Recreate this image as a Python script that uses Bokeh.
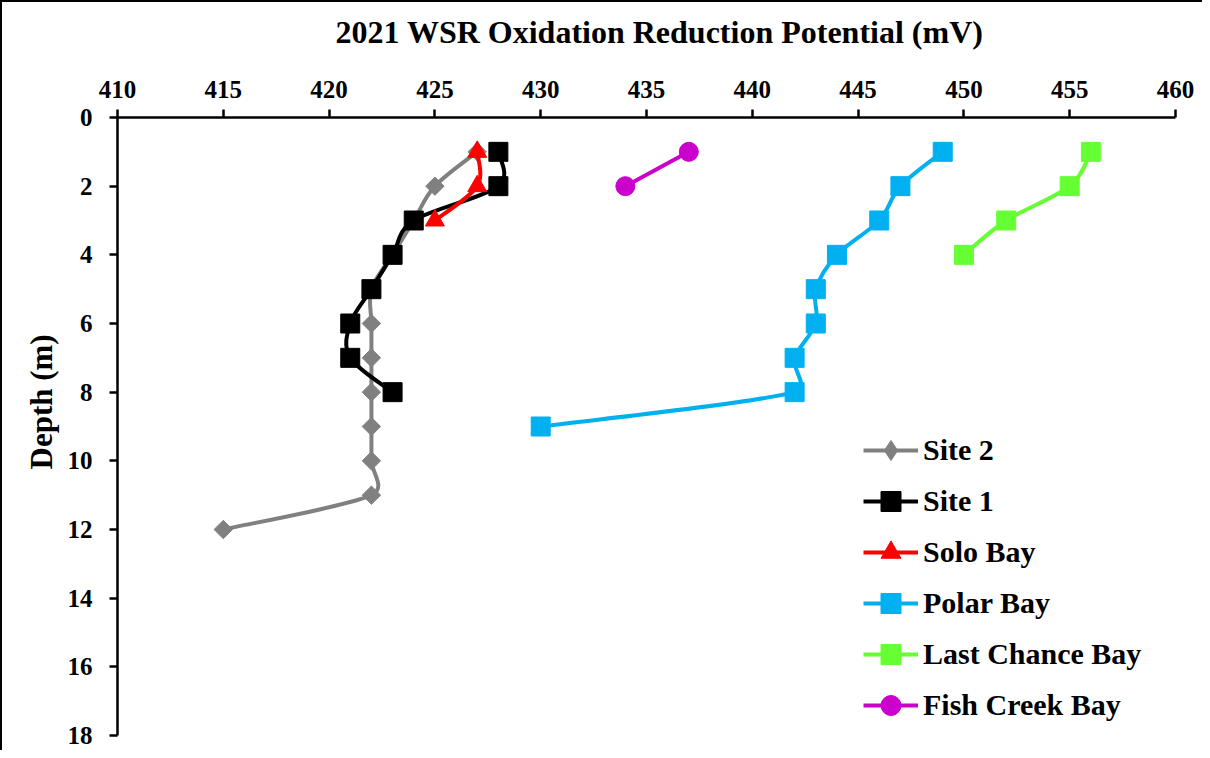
import numpy as np
from bokeh.plotting import figure
from bokeh.models import (Range1d, FixedTicker, Legend, LegendItem, Title,
                          ColumnDataSource)
from bokeh.embed import file_html
from bokeh.resources import INLINE

# ---------------- data ----------------
site2_depth = [1, 2, 3, 4, 5, 6, 7, 8, 9, 10, 11, 12]
site2_orp = [427, 425, 424, 423, 422, 422, 422, 422, 422, 422, 422, 415]

site1_depth = [1, 2, 3, 4, 5, 6, 7, 8]
site1_orp = [428, 428, 424, 423, 422, 421, 421, 423]

solo_depth = [1, 2, 3]
solo_orp = [427, 427, 425]

polar_depth = [1, 2, 3, 4, 5, 6, 7, 8, 9]
polar_orp = [449, 447, 446, 444, 443, 443, 442, 442, 430]

lastchance_depth = [1, 2, 3, 4]
lastchance_orp = [456, 455, 452, 450]

fishcreek_depth = [1, 2]
fishcreek_orp = [437, 434]

x_ticks = [410, 415, 420, 425, 430, 435, 440, 445, 450, 455, 460]
y_ticks = [0, 2, 4, 6, 8, 10, 12, 14, 16, 18]

TITLE = "2021 WSR Oxidation Reduction Potential (mV)"
FONT = "Liberation Serif"

W, H = 1202, 750
BL, BT, BR, BB = 115, 115, 29, 17
XR = (410, 460)
YR = (18, 0)
FW, FH = W - BL - BR, H - BT - BB
# pixel per data unit (used only to shape the smoothing like Excel does)
KX = FW / (XR[1] - XR[0])
KY = FH / abs(YR[1] - YR[0])


def smooth_segments(xs, ys, cap=0.5):
    """Excel-like 'smoothed line': Catmull-Rom tangents, control length capped
    by a fraction of the segment length (computed in pixel space)."""
    xs = np.asarray(xs, float)
    ys = np.asarray(ys, float)
    n = len(xs)
    px, py = xs * KX, ys * KY

    def ctrl(a, b, seg):
        tx, ty = (px[b] - px[a]) / 6, (py[b] - py[a]) / 6
        L = np.hypot(tx, ty)
        if L > cap * seg and L > 0:
            k = cap * seg / L
            tx, ty = tx * k, ty * k
        return tx / KX, ty / KY

    d = dict(x0=[], y0=[], x1=[], y1=[], cx0=[], cy0=[], cx1=[], cy1=[])
    for i in range(n - 1):
        j = i + 1
        seg = np.hypot(px[j] - px[i], py[j] - py[i])
        ox0, oy0 = ctrl(max(i - 1, 0), j, seg)
        ox1, oy1 = ctrl(i, min(j + 1, n - 1), seg)
        d["x0"].append(xs[i]); d["y0"].append(ys[i])
        d["x1"].append(xs[j]); d["y1"].append(ys[j])
        d["cx0"].append(xs[i] + ox0); d["cy0"].append(ys[i] + oy0)
        d["cx1"].append(xs[j] - ox1); d["cy1"].append(ys[j] - oy1)
    return ColumnDataSource(d)


p = figure(width=W, height=H, title=None,
           x_range=Range1d(*XR), y_range=Range1d(*YR),
           x_axis_location="above",
           output_backend="svg", toolbar_location=None,
           min_border_left=BL, min_border_top=BT,
           min_border_right=BR, min_border_bottom=BB)
p.styles = {"border-left": "2px solid black", "border-top": "2px solid black"}

p.xgrid.visible = False
p.ygrid.visible = False
p.outline_line_color = None
p.background_fill_color = "white"
p.border_fill_color = "white"

for ax, ticks, standoff in ((p.xaxis[0], x_ticks, 12), (p.yaxis[0], y_ticks, 17)):
    ax.ticker = FixedTicker(ticks=ticks)
    ax.axis_line_width = 2.5
    ax.axis_line_color = "black"
    ax.major_tick_line_width = 2.5
    ax.major_tick_line_color = "black"
    ax.major_tick_out = 8
    ax.major_tick_in = 0
    ax.minor_tick_line_color = None
    ax.major_label_text_font = FONT
    ax.major_label_text_font_size = "25px"
    ax.major_label_text_font_style = "bold"
    ax.major_label_text_color = "black"
    ax.major_label_standoff = standoff

# spacer panel between the top axis and the chart title
spacer = Title(text=" ", text_font_size="10px", standoff=13)
p.add_layout(spacer, "above")
main_title = Title(text=TITLE, align="left", offset=218, vertical_align="top",
                   standoff=0, text_font=FONT, text_font_size="32px",
                   text_font_style="bold", text_color="black")
p.add_layout(main_title, "above")

ytitle = Title(text="Depth (m)", align="left", text_font=FONT,
               text_font_size="31px", text_font_style="bold",
               text_color="black", standoff=12, offset=266)
p.add_layout(ytitle, "left")

series = [
    ("Site 2", site2_orp, site2_depth, "#808080", "square", 13, np.pi / 4, "diamond"),
    ("Site 1", site1_orp, site1_depth, "#000000", "square", 19, 0, "square"),
    ("Solo Bay", solo_orp, solo_depth, "#FF0000", "triangle", 19, 0, "triangle"),
    ("Polar Bay", polar_orp, polar_depth, "#00B0F0", "square", 19, 0, "square"),
    ("Last Chance Bay", lastchance_orp, lastchance_depth, "#66FF33", "square", 19, 0, "square"),
    ("Fish Creek Bay", fishcreek_orp, fishcreek_depth, "#CC00CC", "circle", 19, 0, "circle"),
]

items = []
for name, xs, ys, color, marker, size, angle, lmarker in series:
    src = smooth_segments(xs, ys)
    p.bezier(x0="x0", y0="y0", x1="x1", y1="y1", cx0="cx0", cy0="cy0",
             cx1="cx1", cy1="cy1", source=src, line_color=color, line_width=4)
    p.scatter(x=xs, y=ys, marker=marker, size=size, angle=angle,
              fill_color=color, line_color=color)
    # legend-only renderers (not drawn inside the plot: NaN positions)
    lr = p.line(x=[np.nan], y=[np.nan], line_color=color, line_width=4)
    ls = p.scatter(x=[np.nan], y=[np.nan], marker=lmarker, size=size,
                   fill_color=color, line_color=color)
    items.append(LegendItem(label=name, renderers=[lr, ls]))

legend = Legend(items=items, location=(746, 5))
legend.label_text_font = FONT
legend.label_text_font_size = "30px"
legend.label_text_font_style = "bold"
legend.label_text_color = "black"
legend.glyph_width = 55
legend.glyph_height = 50
legend.label_height = 50
legend.label_standoff = 5
legend.spacing = 1
legend.padding = 0
legend.margin = 0
legend.border_line_color = None
legend.background_fill_alpha = 0
p.add_layout(legend, "center")

open("out.html", "w").write(file_html(p, INLINE))
